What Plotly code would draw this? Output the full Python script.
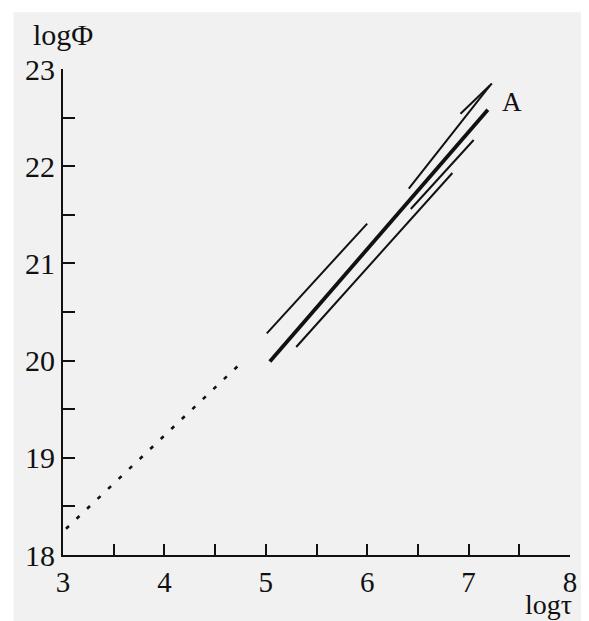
import plotly.graph_objects as go

# Data (log tau, log Phi)
thick_x = [5.04, 7.19]
thick_y = [19.99, 22.58]

thin1_x = [5.01, 6.00]
thin1_y = [20.28, 21.41]

thin2_x = [5.30, 6.84]
thin2_y = [20.14, 21.93]

thin3_x = [6.43, 7.05]
thin3_y = [21.56, 22.27]

thin4_x = [6.41, 7.21]
thin4_y = [21.77, 22.83]

thin5_x = [6.92, 7.23]
thin5_y = [22.54, 22.85]

dot_x = [3.03, 4.75]
dot_y = [18.27, 19.97]

x_ticks = [3, 4, 5, 6, 7, 8]
y_ticks = [18, 19, 20, 21, 22, 23]

FONT = "Liberation Serif"
INK = "#111111"

fig = go.Figure()

def add_line(x, y, w, dash="solid"):
    fig.add_trace(go.Scatter(x=x, y=y, mode="lines",
                             line=dict(color=INK, width=w, dash=dash),
                             showlegend=False, hoverinfo="skip"))

add_line(dot_x, dot_y, 2.6, dash="4px,10.5px")
add_line(thin1_x, thin1_y, 2.0)
add_line(thin2_x, thin2_y, 2.0)
add_line(thin3_x, thin3_y, 2.0)
add_line(thin4_x, thin4_y, 2.0)
add_line(thin5_x, thin5_y, 2.0)
add_line(thick_x, thick_y, 3.8)

fig.add_annotation(x=7.43, y=22.66, text="A", showarrow=False,
                   font=dict(family=FONT, size=27, color=INK),
                   xanchor="center", yanchor="middle")

fig.add_annotation(xref="paper", yref="paper", x=0.0, y=1.07, text="logΦ",
                   showarrow=False, font=dict(family=FONT, size=30, color=INK),
                   xanchor="center", yanchor="middle")
fig.add_annotation(xref="paper", yref="paper", x=0.958, y=-0.138, text="logτ",
                   showarrow=False, font=dict(family=FONT, size=28, color=INK),
                   xanchor="center", yanchor="bottom")

# scanned-page background
fig.add_shape(type="rect", xref="paper", yref="paper",
              x0=-0.0975, x1=1.05, y0=-0.2, y1=1.117,
              fillcolor="#f1f1f1", line=dict(width=0), layer="below")

fig.update_xaxes(range=[3, 8], tickvals=x_ticks, ticktext=[str(v) for v in x_ticks],
                 showgrid=False, zeroline=False, showline=True, linecolor=INK,
                 linewidth=2, ticks="inside", ticklen=11, tickwidth=2, tickcolor=INK,
                 minor=dict(tickvals=[3.5, 4.5, 5.5, 6.5, 7.5], ticks="inside",
                            ticklen=11, tickwidth=2, tickcolor=INK),
                 ticklabeloverflow="allow",
                 tickfont=dict(family=FONT, size=29, color=INK))
fig.update_yaxes(range=[18, 23], tickvals=y_ticks, ticktext=[str(v) for v in y_ticks],
                 showgrid=False, zeroline=False, showline=True, linecolor=INK,
                 linewidth=2, ticks="inside", ticklen=12, tickwidth=2, tickcolor=INK,
                 minor=dict(tickvals=[18.5, 19.5, 20.5, 21.5, 22.5], ticks="inside",
                            ticklen=12, tickwidth=2, tickcolor=INK),
                 ticklabeloverflow="allow",
                 tickfont=dict(family=FONT, size=30, color=INK))

# the page body adds an 8px margin, so the figure is sized/offset to compensate
fig.update_layout(width=581, height=613,
                  margin=dict(l=55, r=13, t=61, b=66),
                  paper_bgcolor="white", plot_bgcolor="rgba(0,0,0,0)",
                  showlegend=False)

fig.write_html("out.html")
